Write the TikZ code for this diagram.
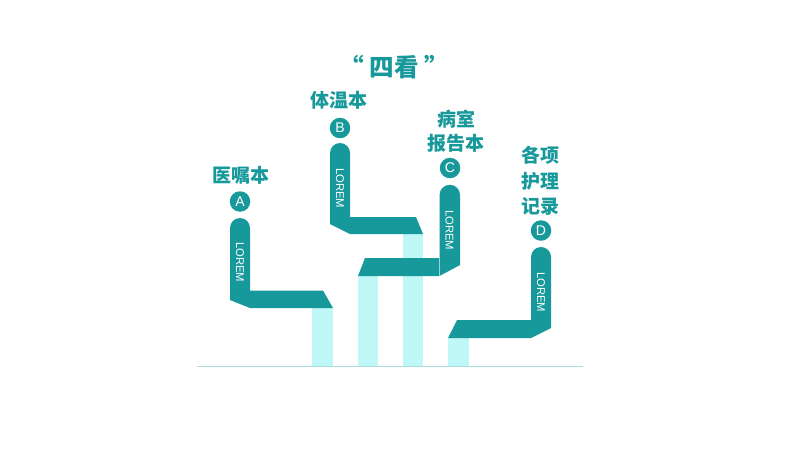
\documentclass[tikz,border=0pt]{standalone}
\usepackage{fontspec}
\setmainfont{Liberation Sans}
\newfontfamily\cjk{Noto Sans CJK SC}
\usetikzlibrary{positioning}
\definecolor{tealmain}{HTML}{17999B}
\definecolor{tealpale}{HTML}{C0F7F7}
\definecolor{tealline}{HTML}{A9DDDD}

\begin{document}
\begin{tikzpicture}[
  x=0.025cm, y=-0.025cm,
  barfill/.style={fill=tealmain},
  colfill/.style={fill=tealpale},
  badge/.style={circle,fill=tealmain,text=white,inner sep=0pt,minimum size=20.5*0.025cm,font=\fontsize{10}{12}\selectfont},
  lorem/.style={text=white,rotate=-90,inner sep=0pt,font=\fontsize{8}{10}\selectfont},
  book/.style={text=tealmain,align=center,font=\cjk\bfseries\fontsize{13.5}{17}\selectfont}
]
\useasboundingbox (0,0) rectangle (800,450);
% light columns
\fill[colfill] (312,308) rectangle (333,366);
\fill[colfill] (403,234) rectangle (423,366);
\fill[colfill] (358,276) rectangle (378,366);
\fill[colfill] (448,338) rectangle (469,366);
% bands
\fill[barfill] (250,290.5) -- (323,290.5) -- (333,308) -- (250,308) -- cycle;
\fill[barfill] (350,217) -- (416,217) -- (423,234) -- (350,234) -- cycle;
\fill[barfill] (439,258) -- (365,258) -- (358,276) -- (439,276) -- cycle;
\fill[barfill] (531,320) -- (457,320) -- (448,338) -- (531,338) -- cycle;
% uprights
\fill[barfill] (230,300) -- (230,228) arc[start angle=180,end angle=360,radius=10] -- (250,308) -- cycle;
\fill[barfill] (330,224) -- (330,153) arc[start angle=180,end angle=360,radius=10] -- (350,234) -- cycle;
\fill[barfill] (460,265) -- (460,195) arc[start angle=0,end angle=-180,radius=10.25] -- (439.5,276) -- cycle;
\fill[barfill] (551,328) -- (551,257) arc[start angle=0,end angle=-180,radius=10] -- (531,338) -- cycle;
% baseline
\coordinate (baseL) at (197,366.5);
\coordinate (baseR) at (583,366.5);
\draw[tealline,line width=1.2pt] (baseL) -- (baseR);
% texts
\node[lorem] (loremA) at (240,262) {LOREM};
\node[lorem] (loremB) at (340,188) {LOREM};
\node[lorem] (loremC) at (449.5,230) {LOREM};
\node[lorem] (loremD) at (541,292) {LOREM};
\node[badge] (circA) at (240,201.5) {A};
\node[badge] (circB) at (340,128) {B};
\node[badge] (circC) at (450,168) {C};
\node[badge] (circD) at (541,230.5) {D};
\node[book] (bookA) at (241,175) {医嘱本};
\node[book] (bookB) at (339,100) {体温本};
\node[book] (bookC) at (456,131) {病室\\报告本};
\node[book,font=\cjk\bfseries\fontsize{13.5}{18}\selectfont] (bookD) at (540,181) {各项\\护理\\记录};
\node[text=tealmain,font=\cjk\bfseries\fontsize{17.5}{20}\selectfont] (title) at (394,67) {“ 四看 ”};
\end{tikzpicture}
\end{document}
